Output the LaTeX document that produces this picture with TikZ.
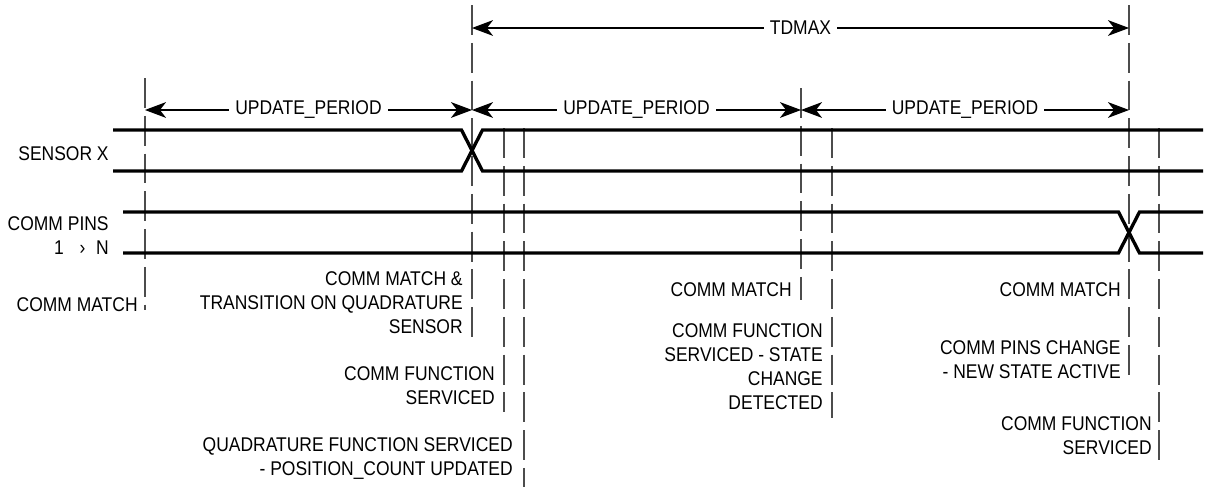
\documentclass[tikz,border=0pt]{standalone}
\usepackage{fontspec}
\setmainfont{Liberation Sans}[FakeStretch=0.88]
\usetikzlibrary{arrows.meta,positioning,calc}
\newcommand{\lbfont}{\fontsize{11.3}{13.6}\selectfont}
\tikzset{
    sig/.style={draw, line width=1.9pt, line join=miter},
    marker/.style={draw, black!70, line width=0.65pt, dash pattern=on 17pt off 4.5pt},
    dim/.style={draw, {Stealth[length=12pt,width=9pt,inset=3.5pt]}-{Stealth[length=12pt,width=9pt,inset=3.5pt]}, line width=0.6pt},
    dimlabel/.style={fill=white, inner xsep=3.5pt, inner ysep=1pt, font=\lbfont},
    lbl/.style={align=right, anchor=east, inner sep=0pt, font=\lbfont}
}

\begin{document}
\begin{tikzpicture}[x=0.02cm, y=-0.02cm]
    \useasboundingbox (0,0) rectangle (1205,487);

    % time markers
    \foreach \nm/\x/\ya/\yb in {tA/145/78/310, tB/472/5/342, tC/504/128/412, tD/524/128/487,
                                tE/801/88/300, tF/832/128/418, tG/1129/5/380, tH/1159/128/460} {
        \coordinate (\nm) at (\x,\ya);
        \coordinate (\nm end) at (\x,\yb);
        \draw[marker] (\nm) -- (\nm end);
    }

    % signals
    \draw[sig] (113,130) -- (461.5,130) -- (482.5,171) -- (1203,171);
    \draw[sig] (113,171) -- (461.5,171) -- (482.5,130) -- (1203,130);
    \draw[sig] (123,212) -- (1118.5,212) -- (1139.5,253) -- (1203,253);
    \draw[sig] (123,253) -- (1118.5,253) -- (1139.5,212) -- (1203,212);

    \node[lbl] (sensor) at (109,153.5) {SENSOR X};
    \node[lbl] (pins) at (109,236) {COMM PINS\\1\hspace{9pt}›\hspace{6pt}N};

    % periods
    \draw[dim] (tB |- 0,28) -- node[dimlabel] (tdmax) {TDMAX} (tG |- 0,28);
    \draw[dim] (tA |- 0,110) -- node[dimlabel] (upd1) {UPDATE\_PERIOD} (tB |- 0,110);
    \draw[dim] (tB |- 0,110) -- node[dimlabel] (upd2) {UPDATE\_PERIOD} (tE |- 0,110);
    \draw[dim] (tE |- 0,110) -- node[dimlabel] (upd3) {UPDATE\_PERIOD} (tG |- 0,110);

    % events
    \node[lbl] (matchA) at (138,305) {COMM MATCH};
    \node[lbl] (matchB) at (463,303) {COMM MATCH \&\\TRANSITION ON QUADRATURE\\SENSOR};
    \node[lbl] (serviceC) at (495,385.5) {COMM FUNCTION\\SERVICED};
    \node[lbl] (quadD) at (513,458.5) {QUADRATURE FUNCTION SERVICED\\- POSITION\_COUNT UPDATED};
    \node[lbl] (matchE) at (792,290) {COMM MATCH};
    \node[lbl] (serviceF) at (823,366.5) {COMM FUNCTION\\SERVICED - STATE\\CHANGE\\DETECTED};
    \node[lbl] (matchG) at (1121,290) {COMM MATCH};
    \node[lbl] (changeG) at (1121,359.5) {COMM PINS CHANGE\\- NEW STATE ACTIVE};
    \node[lbl] (serviceH) at (1152,436) {COMM FUNCTION\\SERVICED};
\end{tikzpicture}
\end{document}
